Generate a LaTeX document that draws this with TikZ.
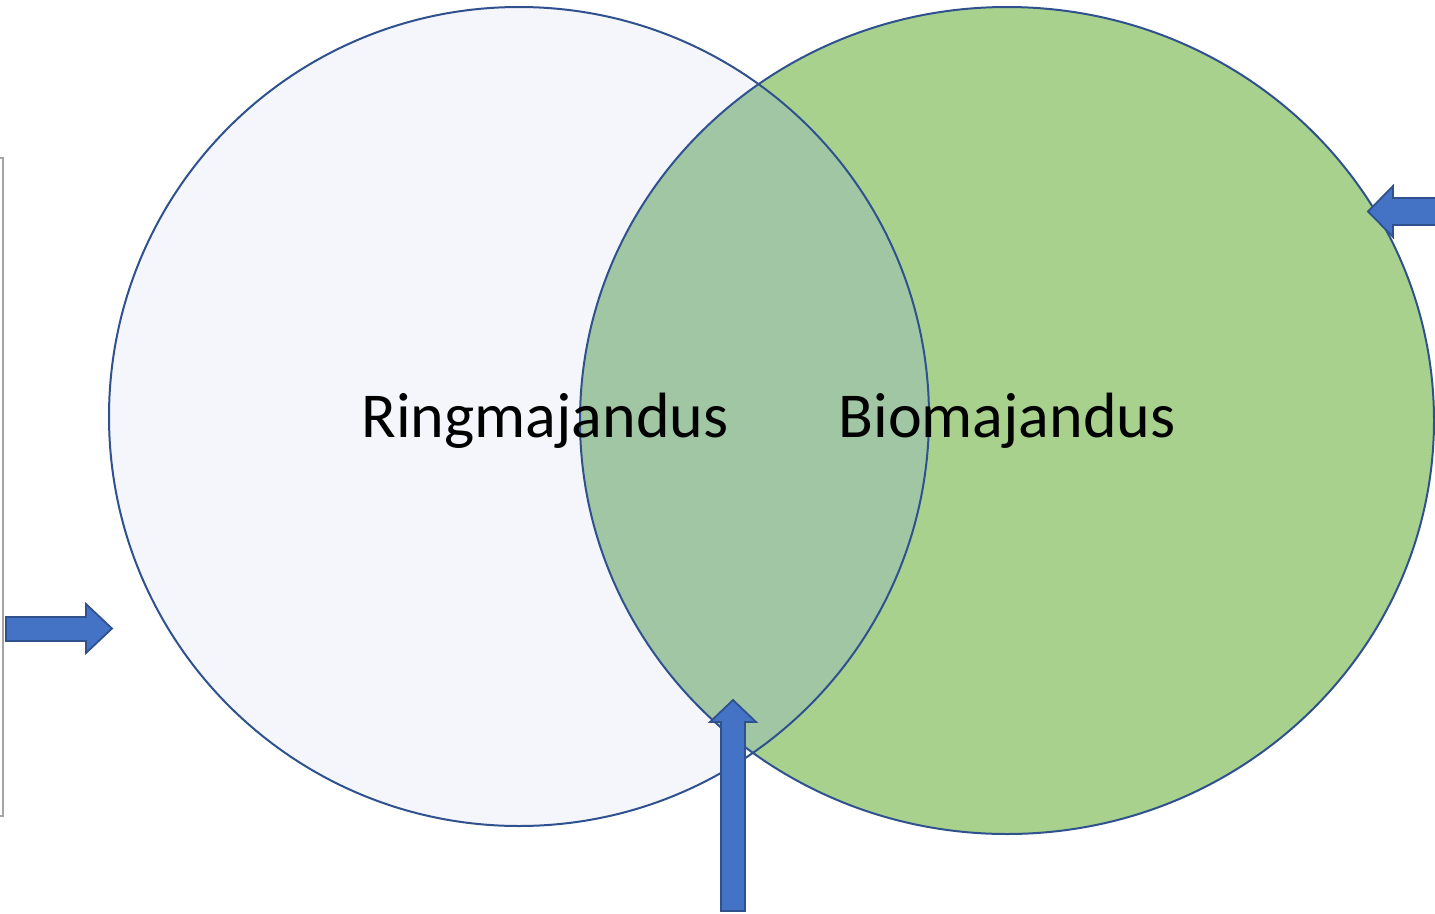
\documentclass[tikz,border=0pt]{standalone}
\usepackage{fontspec}
\setmainfont{Carlito}
\definecolor{leftfill}{RGB}{245,246,251}
\definecolor{greenfill}{RGB}{169,209,142}
\definecolor{overlapfill}{RGB}{161,198,164}
\definecolor{outline}{RGB}{47,82,143}
\definecolor{arrowfill}{RGB}{68,114,196}
\definecolor{bracketgray}{RGB}{165,165,165}
\tikzset{
  circleline/.style={draw=outline, line width=2pt},
  blockarrow/.style={fill=arrowfill, draw=outline, line width=1.8pt, line join=miter},
  label/.style={font=\fontsize{64}{76}\selectfont, text=black, anchor=base, inner sep=0pt}
}
\begin{document}
\begin{tikzpicture}[x=1pt,y=-1pt]
\useasboundingbox (0,0) rectangle (1435,913);
% fills
\fill[leftfill] (519,416.5) ellipse [x radius=410, y radius=409.5];
\fill[greenfill] (1007,420.5) ellipse [x radius=427, y radius=413.5];
\begin{scope}
  \clip (519,416.5) ellipse [x radius=410, y radius=409.5];
  \fill[overlapfill] (1007,420.5) ellipse [x radius=427, y radius=413.5];
\end{scope}
% outlines
\draw[circleline] (519,416.5) ellipse [x radius=410, y radius=409.5];
\draw[circleline] (1007,420.5) ellipse [x radius=427, y radius=413.5];
% labels
\node[label] (ring) at (545,437) {Ringmajandus};
\node[label] (bio) at (1007,437) {Biomajandus};
% bracket
\draw[bracketgray, line width=1.5pt] (0,158) -- (3,158) -- (3,816) -- (0,816);
% arrows
\draw[blockarrow] (6,617) -- (86,617) -- (86,604) -- (112,628.5) -- (86,653) -- (86,641) -- (6,641) -- cycle;
\draw[blockarrow] (721,911) -- (721,722) -- (710,722) -- (733,700) -- (756,722) -- (745,722) -- (745,911) -- cycle;
\draw[blockarrow] (1436,198) -- (1393,198) -- (1393,186) -- (1368,211.5) -- (1393,237) -- (1393,225) -- (1436,225);
\end{tikzpicture}
\end{document}
